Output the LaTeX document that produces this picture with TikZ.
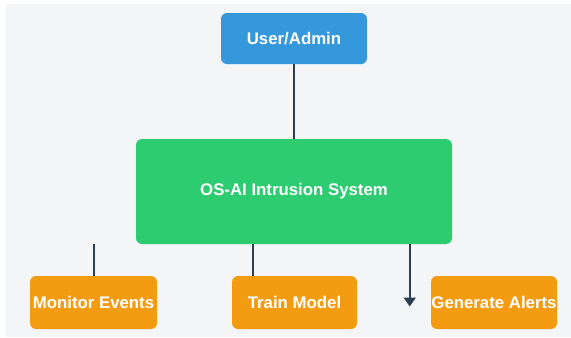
\documentclass[tikz,border=0pt]{standalone}
\usepackage{fontspec}
\setmainfont{Liberation Sans}
\usepackage{tikz}
\usetikzlibrary{arrows.meta,positioning,calc}
\definecolor{bgcol}{HTML}{F4F5F7}
\definecolor{usercol}{HTML}{3498DB}
\definecolor{syscol}{HTML}{2ECC71}
\definecolor{taskcol}{HTML}{F39C12}
\definecolor{linecol}{HTML}{2C3E50}
\tikzset{
    boxtext/.style = {font=\fontsize{12.6}{14}\selectfont\bfseries, text=white},
    userbox/.style = {boxtext, fill=usercol, rounded corners=4.5pt, inner sep=0pt,
                      minimum width=109.5pt, minimum height=38.25pt},
    sysbox/.style = {boxtext, fill=syscol, rounded corners=4.5pt, inner sep=0pt,
                     minimum width=237pt, minimum height=78.75pt},
    taskbox/.style = {boxtext, fill=taskcol, rounded corners=4.5pt, inner sep=0pt,
                      minimum width=94.5pt, minimum height=39.75pt},
    link/.style = {draw=linecol, line width=1.5pt}
}

\begin{document}
\begin{tikzpicture}[x=0.75pt,y=-0.75pt]
                %% canvas
                \useasboundingbox (0,0) rectangle (571,337);
                \fill[bgcol] (6,4) rectangle (571,337);

                %% boxes
                \node[userbox] (user) at (294,38.5) {User/Admin};
                \node[sysbox] (sys) at (294,191.5) {OS-AI Intrusion System};
                \node[taskbox, minimum width=95.25pt] (monitor) at (93.5,302.5) {Monitor Events};
                \node[taskbox, minimum width=93.75pt] (train) at (294.5,302.5) {Train Model};
                \node[taskbox] (alerts) at (494,302.5) {Generate Alerts};

                %% free ends
                \coordinate (monitorTop) at (monitor.north |- sys.south);
                \coordinate (trainOut) at ($(sys.south west)+(117,0)$);
                \coordinate (alertsOut) at ($(sys.south west)+(274,0)$);
                \coordinate (alertsEnd) at (alertsOut |- alerts.center);

                %% links
                \draw[link] (user.south) -- (sys.north);
                \draw[link] (monitorTop) -- (monitor.north);
                \draw[link] (trainOut) -- (trainOut |- train.north);
                \draw[link, -{Triangle[width=9pt,length=6.75pt]}] (alertsOut) -- ($(alertsEnd)+(0,4)$);

            \end{tikzpicture}
\end{document}
